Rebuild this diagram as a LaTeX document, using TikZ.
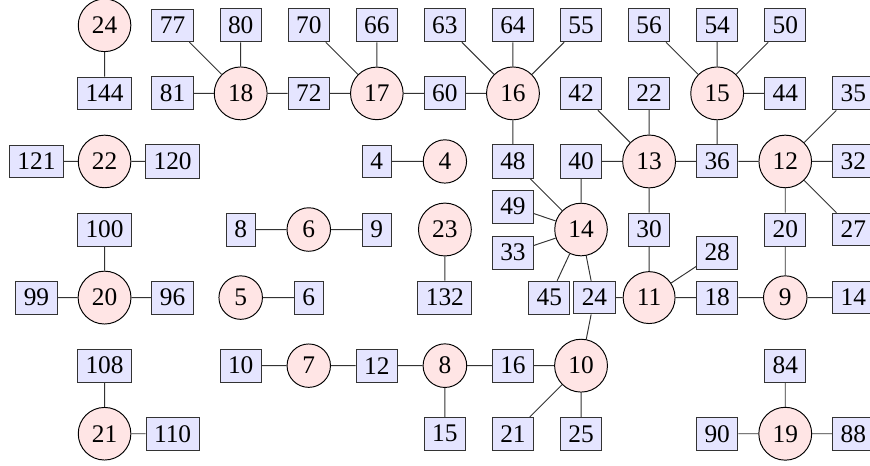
\documentclass[tikz,border=0pt]{standalone}
\usepackage{fontspec}
\setmainfont{Liberation Serif}
\begin{document}
\begin{tikzpicture}[
  every node/.style={font=\fontsize{10.6}{12}\selectfont},
  cnode/.style={circle,draw=black,fill=red!10},
  bnode/.style={rectangle,draw=black!80,fill=blue!10},
  edge/.style={draw=black!80}
]
\useasboundingbox (-0.536,0.372) rectangle (12.245,-6.460);
% row 0
\node[cnode] (c24) at (1,0) {24};
\node[bnode] (b77) at (2,0) {77};
\node[bnode] (b80) at (3,0) {80};
\node[bnode] (b70) at (4,0) {70};
\node[bnode] (b66) at (5,0) {66};
\node[bnode] (b63) at (6,0) {63};
\node[bnode] (b64) at (7,0) {64};
\node[bnode] (b55) at (8,0) {55};
\node[bnode] (b56) at (9,0) {56};
\node[bnode] (b54) at (10,0) {54};
\node[bnode] (b50) at (11,0) {50};
% row 1
\node[bnode] (b144) at (1,-1) {144};
\node[bnode] (b81) at (2,-1) {81};
\node[cnode] (c18) at (3,-1) {18};
\node[bnode] (b72) at (4,-1) {72};
\node[cnode] (c17) at (5,-1) {17};
\node[bnode] (b60) at (6,-1) {60};
\node[cnode] (c16) at (7,-1) {16};
\node[bnode] (b42) at (8,-1) {42};
\node[bnode] (b22) at (9,-1) {22};
\node[cnode] (c15) at (10,-1) {15};
\node[bnode] (b44) at (11,-1) {44};
\node[bnode] (b35) at (12,-1) {35};
% row 2
\node[bnode] (b121) at (0,-2) {121};
\node[cnode] (c22) at (1,-2) {22};
\node[bnode] (b120) at (2,-2) {120};
\node[bnode] (b4) at (5,-2) {4};
\node[cnode] (c4) at (6,-2) {4};
\node[bnode] (b48) at (7,-2) {48};
\node[bnode] (b40) at (8,-2) {40};
\node[cnode] (c13) at (9,-2) {13};
\node[bnode] (b36) at (10,-2) {36};
\node[cnode] (c12) at (11,-2) {12};
\node[bnode] (b32) at (12,-2) {32};
% row 3
\node[bnode] (b100) at (1,-3) {100};
\node[bnode] (b8) at (3,-3) {8};
\node[cnode] (c6) at (4,-3) {6};
\node[bnode] (b9) at (5,-3) {9};
\node[cnode] (c23) at (6,-3) {23};
\node[bnode] (b49) at (7,-2.662) {49};
\node[bnode] (b33) at (7,-3.338) {33};
\node[cnode] (c14) at (8,-3) {14};
\node[bnode] (b30) at (9,-3) {30};
\node[bnode] (b28) at (10,-3.338) {28};
\node[bnode] (b20) at (11,-3) {20};
\node[bnode] (b27) at (12,-3) {27};
% row 4
\node[bnode] (b99) at (0,-4) {99};
\node[cnode] (c20) at (1,-4) {20};
\node[bnode] (b96) at (2,-4) {96};
\node[cnode] (c5) at (3,-4) {5};
\node[bnode] (b6) at (4,-4) {6};
\node[bnode] (b132) at (6,-4) {132};
\node[bnode] (b45) at (7.533,-4) {45};
\node[bnode] (b24) at (8.197,-4) {24};
\node[cnode] (c11) at (9,-4) {11};
\node[bnode] (b18) at (10,-4) {18};
\node[cnode] (c9) at (11,-4) {9};
\node[bnode] (b14) at (12,-4) {14};
% row 5
\node[bnode] (b108) at (1,-5) {108};
\node[bnode] (b10) at (3,-5) {10};
\node[cnode] (c7) at (4,-5) {7};
\node[bnode] (b12) at (5,-5) {12};
\node[cnode] (c8) at (6,-5) {8};
\node[bnode] (b16) at (7,-5) {16};
\node[cnode] (c10) at (8,-5) {10};
\node[bnode] (b84) at (11,-5) {84};
% row 6
\node[cnode] (c21) at (1,-6) {21};
\node[bnode] (b110) at (2,-6) {110};
\node[bnode] (b15) at (6,-6) {15};
\node[bnode] (b21) at (7,-6) {21};
\node[bnode] (b25) at (8,-6) {25};
\node[bnode] (b90) at (10,-6) {90};
\node[cnode] (c19) at (11,-6) {19};
\node[bnode] (b88) at (12,-6) {88};
% edges
\path[edge]
 (c24) -- (b144)
 (b77) -- (c18) (b80) -- (c18) (b81) -- (c18) (c18) -- (b72)
 (b72) -- (c17) (b70) -- (c17) (b66) -- (c17) (c17) -- (b60)
 (b60) -- (c16) (b63) -- (c16) (b64) -- (c16) (b55) -- (c16) (c16) -- (b48)
 (b56) -- (c15) (b54) -- (c15) (b50) -- (c15) (c15) -- (b44) (c15) -- (b36)
 (b42) -- (c13) (b22) -- (c13) (b40) -- (c13) (c13) -- (b36) (c13) -- (b30)
 (b36) -- (c12) (b35) -- (c12) (c12) -- (b32) (c12) -- (b27) (c12) -- (b20)
 (b121) -- (c22) (c22) -- (b120)
 (b100) -- (c20) (b99) -- (c20) (c20) -- (b96)
 (b4) -- (c4)
 (b8) -- (c6) (c6) -- (b9)
 (c5) -- (b6)
 (c23) -- (b132)
 (b48) -- (c14) (b40) -- (c14) (b49) -- (c14) (b33) -- (c14) (c14) -- (b45) (c14) -- (b24)
 (b30) -- (c11) (b24) -- (c11) (c11) -- (b28) (c11) -- (b18)
 (b18) -- (c9) (b20) -- (c9) (c9) -- (b14)
 (b108) -- (c21) (c21) -- (b110)
 (b10) -- (c7) (c7) -- (b12) (b12) -- (c8) (c8) -- (b16) (c8) -- (b15)
 (b16) -- (c10) (c10) -- (b21) (c10) -- (b25) (b24) -- (c10)
 (b84) -- (c19) (b90) -- (c19) (c19) -- (b88);
\end{tikzpicture}
\end{document}
